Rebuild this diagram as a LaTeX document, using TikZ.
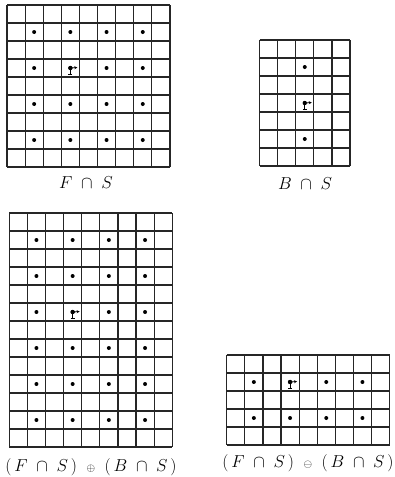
\documentclass[tikz,border=0pt]{standalone}
\usetikzlibrary{arrows.meta}
\newcommand\mygrid[4]{%
  \foreach \i in {0,...,#3} \draw[gridline] ({#1+\i*18.1},#2) -- ({#1+\i*18.1},{#2+#4*18});
  \foreach \j in {0,...,#4} \draw[gridline] (#1,{#2+\j*18}) -- ({#1+#3*18.1},{#2+\j*18});
}
\newcommand\mypix[4]{% x0 y0 col row
  \fill ({#1+(#3+0.5)*18.1},{#2+(#4+0.5)*18}) circle (2pt);
}
\newcommand\myorigin[4]{%
  \coordinate (o) at ({#1+(#3+0.5)*18.1},{#2+(#4+0.5)*18});
  \fill (o) circle (2.2pt);
  \draw[line width=0.9pt,-{Stealth[length=3pt,width=3pt]}] (o) -- ++(7,-0.5);
  \draw[line width=1pt] (o) -- ++(0,6);
  \draw[line width=0.9pt] ([xshift=-2pt,yshift=-6pt]o) -- ++(4,0);
}
\begin{document}
\begin{tikzpicture}[x=1pt,y=-1pt,
  gridline/.style={line width=1.2pt, black!85},
  lbl/.style={font=\fontsize{16}{18}\selectfont, inner sep=0pt}]
\useasboundingbox (0,0) rectangle (394,477);
% grid 1: F cap S
\mygrid{7}{5}{9}{9}
\foreach \c in {1,3,5,7} \foreach \r in {1,3,5,7} {\mypix{7}{5}{\c}{\r}}
\myorigin{7}{5}{3}{3}
\node[lbl] (l1) at (86,183) {$F \;\cap\; S$};
% grid 2: B cap S
\mygrid{259.5}{40}{5}{7}
\mypix{259.5}{40}{2}{1}
\mypix{259.5}{40}{2}{5}
\myorigin{259.5}{40}{2}{3}
\node[lbl] (l2) at (305,184) {$B \;\cap\; S$};
% grid 3: dilation
\mygrid{9.3}{213}{9}{13}
\foreach \c in {1,3,5,7} \foreach \r in {1,3,5,7,9,11} {\mypix{9.3}{213}{\c}{\r}}
\myorigin{9.3}{213}{3}{5}
\node[lbl] (l3) at (91,467) {$(\,F \;\cap\; S\,)\;\; {\scriptstyle\oplus}\;\; (\,B \;\cap\; S\,)$};
% grid 4: erosion
\mygrid{226.7}{355}{9}{5}
\foreach \c in {1,3,5,7} \foreach \r in {1,3} {\mypix{226.7}{355}{\c}{\r}}
\myorigin{226.7}{355}{3}{1}
\node[lbl] (l4) at (308,463) {$(\,F \;\cap\; S\,)\;\; {\scriptstyle\ominus}\;\; (\,B \;\cap\; S\,)$};
\end{tikzpicture}
\end{document}
